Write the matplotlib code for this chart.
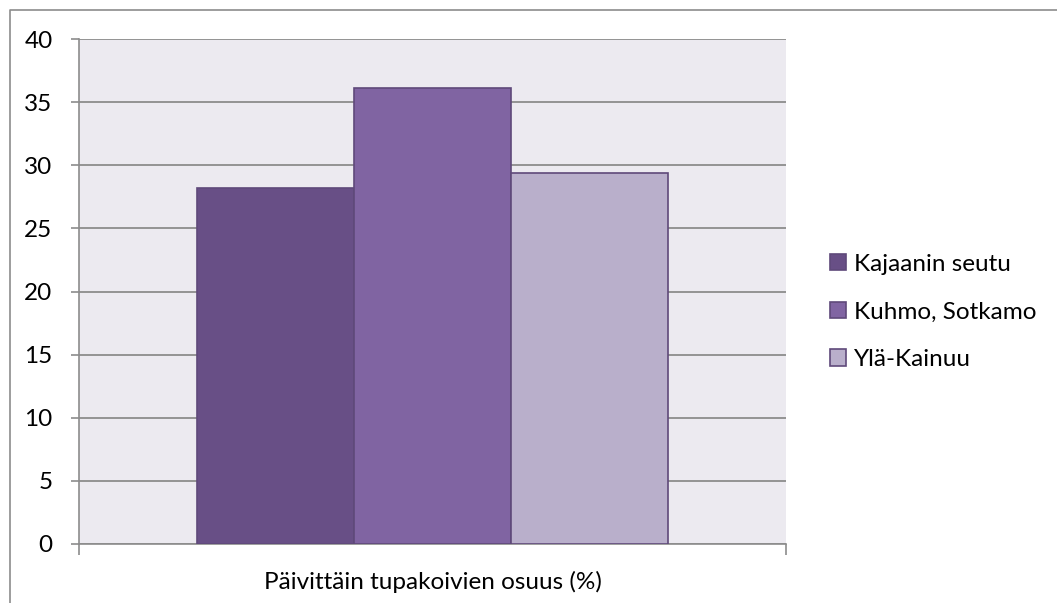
import matplotlib
matplotlib.use("Agg")
import matplotlib.pyplot as plt
from matplotlib.lines import Line2D

category = "Päivittäin tupakoivien osuus (%)"
series = ["Kajaanin seutu", "Kuhmo, Sotkamo", "Ylä-Kainuu"]
values = [28.2, 36.1, 29.4]
colors = ["#684F86", "#8064A2", "#B9AFCB"]
yticks = [0, 5, 10, 15, 20, 25, 30, 35, 40]

plt.rcParams['font.family'] = ['Lato', 'DejaVu Sans']
FS = 17.5

W, H = 1057, 603
fig = plt.figure(figsize=(W/100, H/100), dpi=100)
# outer frame (left and top edges visible)
fig.lines.append(Line2D([9.5/W, 9.5/W, 1], [0, 1 - 9.5/H, 1 - 9.5/H], transform=fig.transFigure,
                        color="#8C8C8C", linewidth=1.2))

left, right, top, bottom = 79, 786, 39, 544
ax = fig.add_axes([left/W, 1 - bottom/H, (right-left)/W, (bottom-top)/H])
ax.set_facecolor("#ECEAF0")

positions = [-1, 0, 1]
for p, v, c, s in zip(positions, values, colors, series):
    ax.bar(p, v, width=1.0, color=c, edgecolor="#5F497A", linewidth=1.2, label=s, zorder=3)

ax.set_xlim(-2.247, 2.247)
ax.set_ylim(0, 40)
ax.set_yticks(yticks)
ax.set_yticklabels([str(t) for t in yticks], fontsize=FS)
ax.yaxis.grid(True, color="#8C8C8C", linewidth=1.3, zorder=1)
ax.set_axisbelow(True)
ax.tick_params(axis="y", direction="out", length=6, width=1.2, color="#8C8C8C", pad=13)

ax.set_xticks([-2.247, 2.247])
ax.set_xticklabels(["", ""])
ax.tick_params(axis="x", direction="out", length=8, width=1.2, color="#8C8C8C")
ax.set_xlabel(category, fontsize=FS, labelpad=8)

for sp in ["top", "right"]:
    ax.spines[sp].set_visible(False)
for sp in ["left", "bottom"]:
    ax.spines[sp].set_color("#8C8C8C")
    ax.spines[sp].set_linewidth(1.2)

leg = ax.legend(loc="upper left", bbox_to_anchor=(820/W, 1 - 244/H), bbox_transform=fig.transFigure,
                frameon=False, fontsize=FS, handlelength=0.66, handleheight=0.66,
                handletextpad=0.33, labelspacing=1.1, borderaxespad=0)

fig.savefig("out.png", dpi=100)
